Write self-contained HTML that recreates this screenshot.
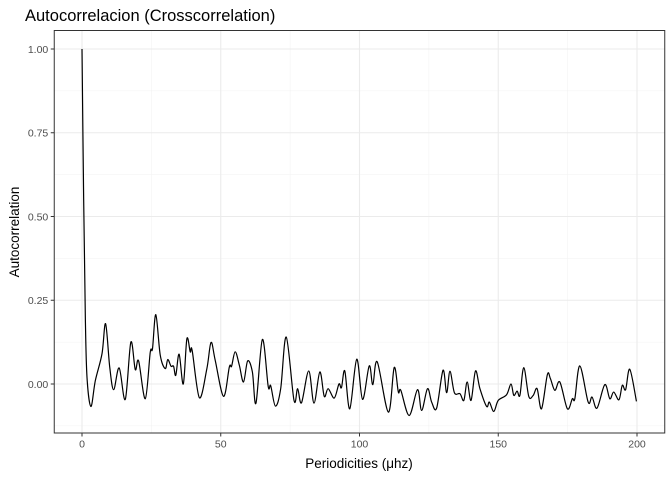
<!DOCTYPE html>
<html><head><meta charset="utf-8">
<style>
body{margin:0;background:#fff;font-family:"Liberation Sans",Arial,sans-serif;}
svg{display:block}
</style></head>
<body>
<svg id="chart" width="672" height="480" viewBox="0 0 672 480">
  <text x="25" y="21" font-size="16.5" fill="#000">Autocorrelacion (Crosscorrelation)</text>
  <g id="grid"></g>
  <g id="series"></g>
  <rect x="54.25" y="30.5" width="610.5" height="402.5" fill="none" stroke="#333" stroke-width="1"/>
  <g id="axes"></g>
  <text x="359" y="468" font-size="13.5" text-anchor="middle" fill="#000">Periodicities (μhz)</text>
  <text transform="translate(19,232) rotate(-90)" font-size="13.5" text-anchor="middle" fill="#000">Autocorrelation</text>
</svg>
<script>
const xs=[0,0.6,1.2,1.8,3.2,4.8,7.2,8.5,10,11.4,13.4,15.6,17.6,19.2,20.4,22.8,24.6,25.4,26.6,28.2,30,30.9,32.1,33,33.8,35,36.5,37.8,39,39.7,42.3,45,46.5,48,51,53.1,53.9,55.2,56.7,58.2,59.7,61.4,62.7,65,67.1,68,69.7,71.6,73.6,76.4,77.7,79.1,81.7,83.6,85.7,87.3,88.7,90.9,92.6,93.5,94.7,96.5,99,101.1,103.5,104.8,106.4,110.4,112.5,114,114.9,117.9,120.9,122.4,124.5,126,127.8,130.1,131.4,132.6,134.2,136.2,137.6,138.8,140.2,141.8,143.4,145.8,146.8,148.4,150,153,154.6,155.6,156.8,157.8,159.2,161,162.6,164,165.6,167.7,168.8,170.4,172.2,174.9,176.7,177.6,179.4,182.4,183.8,185.6,188.4,190.2,191.6,193.5,194.7,195.9,197.4,199.8];
const ys=[1.0,0.55,0.2,0.02,-0.067,0.01,0.09,0.18,0.05,-0.017,0.048,-0.046,0.125,0.043,0.069,-0.044,0.095,0.105,0.207,0.086,0.046,0.073,0.053,0.053,0.026,0.089,0,0.135,0.096,0.1,-0.041,0.046,0.124,0.071,-0.037,0.051,0.053,0.096,0.056,0.006,0.069,0.036,-0.057,0.133,-0.007,-0.005,-0.066,-0.014,0.14,-0.049,-0.014,-0.056,0.039,-0.057,0.036,-0.037,-0.014,-0.042,0,-0.011,0.039,-0.074,0.074,-0.046,0.054,-0.002,0.066,-0.084,0.049,-0.024,-0.019,-0.094,-0.017,-0.079,-0.014,-0.054,-0.072,0.041,-0.026,0.038,-0.026,-0.029,-0.049,0.006,-0.049,0.039,-0.014,-0.067,-0.054,-0.082,-0.049,-0.032,0,-0.034,-0.021,-0.034,0.049,-0.037,-0.034,-0.014,-0.074,0.028,0.016,-0.019,0.006,-0.074,-0.044,-0.044,0.054,-0.054,-0.039,-0.072,-0.002,-0.044,-0.024,-0.047,-0.004,-0.017,0.044,-0.052];
const xTicks=[0,50,100,150,200];
const xTickLabels=["0","50","100","150","200"];
const yTicks=[0,0.25,0.5,0.75,1];
const yTickLabels=["0.00","0.25","0.50","0.75","1.00"];
const xMinor=[25,75,125,175];
const yMinor=[-0.125,0.125,0.375,0.625,0.875];

const X=v=>82+v*2.775;
const Y=v=>384-v*335;
const NS="http://www.w3.org/2000/svg";
function mk(tag,attrs,parent){const e=document.createElementNS(NS,tag);for(const k in attrs)e.setAttribute(k,attrs[k]);parent.appendChild(e);return e;}
const grid=document.getElementById('grid'),axes=document.getElementById('axes'),series=document.getElementById('series');
const L=54.25,R=664.75,T=30.5,B=433;
xMinor.forEach(v=>{const l=mk('line',{x1:X(v),x2:X(v),y1:T,y2:B,stroke:'#f2f2f2','stroke-width':0.6},grid);

});
yMinor.forEach(v=>{const l=mk('line',{x1:L,x2:R,y1:Y(v),y2:Y(v),stroke:'#f2f2f2','stroke-width':0.6},grid);

});
xTicks.forEach((v,i)=>{const l=mk('line',{x1:X(v),x2:X(v),y1:T,y2:B,stroke:'#ebebeb','stroke-width':1.1},grid);


const t=mk('line',{x1:X(v),x2:X(v),y1:B,y2:B+3.5,stroke:'#333','stroke-width':1},axes);


const tx=mk('text',{x:X(v),y:B+14.5,'font-size':10.5,'text-anchor':'middle',fill:'#4d4d4d'},axes);tx.textContent=xTickLabels[i];

});
yTicks.forEach((v,i)=>{const l=mk('line',{x1:L,x2:R,y1:Y(v),y2:Y(v),stroke:'#ebebeb','stroke-width':1.1},grid);


const t=mk('line',{x1:L-3.5,x2:L,y1:Y(v),y2:Y(v),stroke:'#333','stroke-width':1},axes);


const tx=mk('text',{x:L-6,y:Y(v)+3.8,'font-size':10.5,'text-anchor':'end',fill:'#4d4d4d'},axes);tx.textContent=yTickLabels[i];

});
const P=xs.map((x,i)=>[X(x),Y(ys[i])]);
let d='M'+P[0][0]+','+P[0][1];
for(let i=0;i<P.length-1;i++){const p0=P[Math.max(0,i-1)],p1=P[i],p2=P[i+1],p3=P[Math.min(P.length-1,i+2)];
const c1=[p1[0]+(p2[0]-p0[0])/6,p1[1]+(p2[1]-p0[1])/6],c2=[p2[0]-(p3[0]-p1[0])/6,p2[1]-(p3[1]-p1[1])/6];
if(i===0){c1[0]=p1[0];c1[1]=p1[1];}
d+=' C'+c1[0].toFixed(2)+','+c1[1].toFixed(2)+' '+c2[0].toFixed(2)+','+c2[1].toFixed(2)+' '+p2[0].toFixed(2)+','+p2[1].toFixed(2);}
const path=mk('path',{d:d,fill:'none',stroke:'#000','stroke-width':1.2,'stroke-linejoin':'round'},series);


</script>
</body></html>
